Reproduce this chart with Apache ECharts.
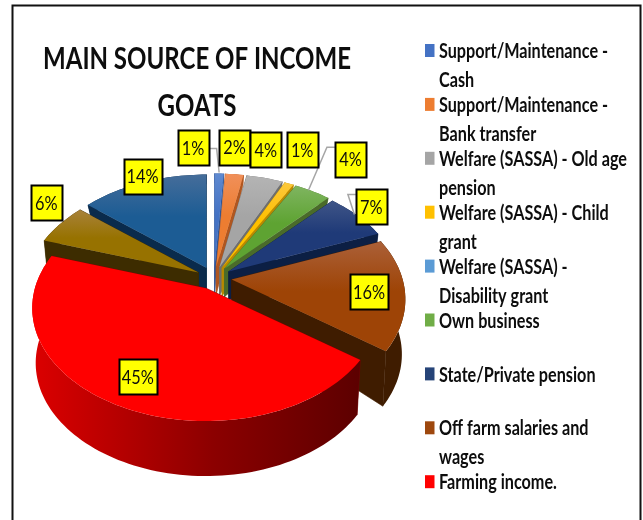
<!DOCTYPE html>
<html>
<head>
<meta charset="utf-8">
<style>html,body{margin:0;padding:0;background:#fff}#chart{width:643px;height:520px}</style>
<script src="https://cdn.jsdelivr.net/npm/echarts@6/dist/echarts.min.js"></script>
</head>
<body>
<div id="chart"></div>
<script>
// Income-source shares, clockwise from twelve o'clock.
const categories = [
  'Support/Maintenance - Cash', 'Support/Maintenance - Bank transfer',
  'Welfare (SASSA) - Old age pension', 'Welfare (SASSA) - Child grant',
  'Welfare (SASSA) - Disability grant', 'Own business', 'State/Private pension',
  'Off farm salaries and wages', 'Farming income.', 'Other source A', 'Other source B'
];
const values = [1, 2, 4, 1, 0, 4, 7, 16, 45, 6, 14];

const titleLines = ['MAIN SOURCE OF INCOME', 'GOATS'];
const legendLines = [
  ['Support/Maintenance -', 'Cash'],
  ['Support/Maintenance -', 'Bank transfer'],
  ['Welfare (SASSA) - Old age', 'pension'],
  ['Welfare (SASSA) - Child', 'grant'],
  ['Welfare (SASSA) -', 'Disability grant'],
  ['Own business'],
  ['State/Private pension'],
  ['Off farm salaries and', 'wages'],
  ['Farming income.']
];

// Face colours per slice: top-face gradient stops, then the side shade.
const legendColors = ['#4472c4', '#ed7d31', '#a5a5a5', '#ffc000', '#5b9bd5', '#70ad47', '#264478', '#9e480e', '#ff0000'];
const topColors = [
  ['#5f8ad0', '#4472c4'], ['#f0905a', '#ed7d31'], ['#b4b4b4', '#a5a5a5'], ['#fcc83c', '#ffc000'],
  ['#5b9bd5', '#5b9bd5'], ['#7fb560', '#5ea332'], ['#3f5587', '#1f3a78'], ['#ab6038', '#9e4406'],
  ['#ff0000', '#ff0000'], ['#a8823a', '#977200'], ['#456d9a', '#1c5c94']
];
const sideColors = ['#2f5597', '#b0561f', '#6f6f6f', '#b98a00', '#3a6e9e', '#4a6b2a', '#0c1f44', '#3f1c00', '#7a0000', '#3d2c00', '#0a2b4c'];

// Label box centre relative to the slice's rim midpoint.
const labelOffsets = [[-26, -26], [0, -27], [1, -28], [13, -34], [0, 0], [38, -32], [14, -9], [-36, -2], [24, -27], [-14, -21], [-1, -6]];
// Leader lines: side of the box they leave from (0 = none) and horizontal shift of their rim end.
const leaderSides = [1, 0, 0, 0, 0, -1, -1, 0, 0, 0, 0];
const leaderShifts = [0, 0, 0, 0, 0, -4, -3, 0, 0, 0, 0];

// Tilted-disc projection: a unit circle on the ground plane seen in perspective.
const centerX = 214, centerY = 278;
const radiusX = 171, radiusY = 109.5, perspective = 0.176, explode = 0.104;
const total = values.reduce((a, b) => a + b, 0);
const font = 'Lato, "Liberation Sans", sans-serif';
const labelScale = 0.86, legendScale = 0.79, titleScale = 0.775;

function project(r, theta) {
  const s = Math.sin(theta), v = -Math.cos(theta), w = 1 - perspective * r * v;
  return [radiusX * r * s / w, radiusY * r * v / w];
}
function smooth(a, b, x) {
  const t = Math.min(1, Math.max(0, (x - a) / (b - a)));
  return t * t * (3 - 2 * t);
}
// Extrusion height varies from the centre to the rim and shrinks at the far rim.
function depthAt(r, theta) {
  const rim = 10 + 45 * smooth(-0.6, 0, -Math.cos(theta));
  return 28 + (rim - 28) * r;
}
function textEl(text, x, y, size, weight, align, scaleX, z2) {
  return { type: 'text', x: x, y: y, scaleX: scaleX, z2: z2 || 0,
    style: { text: text, x: 0, y: 0, fill: '#0d0d0d', font: weight + ' ' + size + 'px ' + font, align: align, verticalAlign: 'middle' } };
}

function renderSlice(params, api) {
  const index = api.value(0), value = api.value(1);
  if (!value) return { type: 'group', children: [] };
  const before = values.slice(0, index).reduce((a, b) => a + b, 0);
  const a0 = before / total * Math.PI * 2, a1 = (before + value) / total * Math.PI * 2, mid = (a0 + a1) / 2;
  const ax = centerX + explode * radiusX * Math.sin(mid);
  const ay = centerY - explode * radiusY * Math.cos(mid);
  const top = (r, t) => { const p = project(r, t); return [ax + p[0], ay + p[1]]; };
  const low = (r, t) => { const p = project(r, t); return [ax + p[0] * 0.98, ay + p[1] + depthAt(r, t)]; };

  const steps = Math.max(2, Math.ceil((a1 - a0) / 0.03));
  const arc = [];
  for (let i = 0; i <= steps; i++) arc.push(a0 + (a1 - a0) * i / steps);
  const rs = [0, 0.25, 0.5, 0.75, 1];

  const z = Math.round((1 - Math.cos(mid)) * 100) * 10;
  const sideFill = index === 8
    ? { type: 'linear', x: 0, y: 0, x2: 1, y2: 0, colorStops: [{ offset: 0, color: '#dc0000' }, { offset: 0.55, color: '#8c0000' }, { offset: 1, color: '#5c0000' }] }
    : sideColors[index];
  const radial = t => ({
    type: 'polygon', z2: z,
    shape: { points: rs.map(r => top(r, t)).concat(rs.slice().reverse().map(r => low(r, t))) },
    style: { fill: sideColors[index], stroke: sideColors[index], lineWidth: 0.6 }
  });
  const children = [
    radial(a0), radial(a1),
    { type: 'polygon', z2: z + 1,
      shape: { points: arc.map(t => top(1, t)).concat(arc.slice().reverse().map(t => low(1, t))) },
      style: { fill: sideFill } },
    { type: 'polygon', z2: z + 2,
      shape: { points: [[ax, ay]].concat(arc.map(t => top(1, t))) },
      style: { fill: { type: 'linear', x: 0, y: 0, x2: 0, y2: 1, colorStops: [{ offset: 0, color: topColors[index][0] }, { offset: 0.45, color: topColors[index][1] }, { offset: 1, color: topColors[index][1] }] } } }
  ];

  // Value label: yellow box, optional elbow leader back to the rim.
  const anchor = top(1, mid);
  const lx = anchor[0] + labelOffsets[index][0], ly = anchor[1] + labelOffsets[index][1];
  const text = value + '%';
  const halfW = text.length > 2 ? 19 : 15.5, halfH = 17.5;
  const side = leaderSides[index];
  if (side) {
    const edge = side > 0 ? lx + halfW : lx - halfW;
    const elbow = edge + side * 8;
    const yy = ly + (side > 0 ? 1 : -12);
    children.push({ type: 'polyline', z2: 5000,
      shape: { points: [[edge, yy], [elbow, yy], [anchor[0] + leaderShifts[index], anchor[1] - 1]] },
      style: { stroke: '#a6a6a6', lineWidth: 1.5, fill: null } });
  }
  children.push({ type: 'rect', z2: 6000,
    shape: { x: Math.round(lx - halfW) + 0.5, y: Math.round(ly - halfH) + 0.5, width: halfW * 2, height: halfH * 2 },
    style: { fill: '#ffff00', stroke: '#000', lineWidth: 2 } });
  children.push(textEl(text, lx, ly + 1, 19, 'normal', 'center', labelScale, 6001));
  return { type: 'group', children: children };
}

// Hand-placed legend so each swatch sits beside the first line of its entry.
const legendGraphics = [];
legendLines.forEach((lines, i) => {
  const y = 50.5 + i * 53.9;
  legendGraphics.push({ type: 'rect', shape: { x: 425, y: y - 6.5, width: 9.5, height: 13 }, style: { fill: legendColors[i] } });
  lines.forEach((line, j) => legendGraphics.push(textEl(line, 439, y + 1 + j * 29, 20.5, 'bold', 'left', legendScale)));
});
const titleGraphics = titleLines.map((line, i) => textEl(line, 197, 59 + i * 46.5, 31, 'bold', 'center', titleScale));

const chart = echarts.init(document.getElementById('chart'), null, { renderer: 'canvas' });
chart.setOption({
  backgroundColor: '#fff',
  animation: false,
  graphic: { elements: [
    { type: 'rect', z: -1, shape: { x: 12.5, y: 5.5, width: 628, height: 530 }, style: { fill: 'none', stroke: '#111', lineWidth: 2 } }
  ].concat(titleGraphics, legendGraphics) },
  series: [{
    type: 'custom', coordinateSystem: 'none', silent: true,
    renderItem: renderSlice,
    data: values.map((v, i) => [i, v])
  }]
});
</script>
</body>
</html>
